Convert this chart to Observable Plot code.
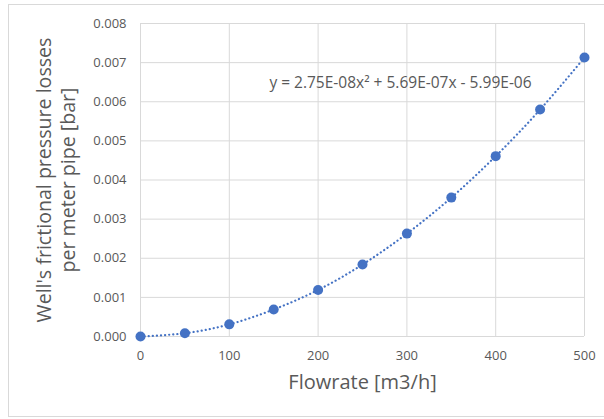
<!DOCTYPE html>
<html>
<head>
<meta charset="utf-8">
<script src="https://cdn.jsdelivr.net/npm/d3@7"></script>
<script src="https://cdn.jsdelivr.net/npm/@observablehq/plot@0.6"></script>
<style>
  html, body { margin: 0; padding: 0; background: #fff; }
  #wrap { position: relative; width: 604px; height: 419px; overflow: hidden; }
  #border { position: absolute; left: 8px; top: 4px; width: 610px; height: 413px; border: 1px solid #d9d9d9; box-sizing: border-box; pointer-events: none; }
  svg { position: absolute; left: 0; top: 0; }
</style>
</head>
<body>
<div id="wrap"><div id="border"></div></div>
<script>
// Data
const flowrate = [0, 50, 100, 150, 200, 250, 300, 350, 400, 450, 500];
const pressureLoss = [0.0000, 0.000085, 0.00031, 0.00069, 0.00119, 0.00184, 0.00263, 0.00355, 0.00461, 0.00580, 0.00713];
const xTicks = [0, 100, 200, 300, 400, 500];
const yTicks = [0, 0.001, 0.002, 0.003, 0.004, 0.005, 0.006, 0.007, 0.008];
const xTitle = "Flowrate [m3/h]";
const yTitle = "Well's frictional pressure losses\nper meter pipe [bar]";
const equation = "y = 2.75E-08x² + 5.69E-07x - 5.99E-06";

const data = flowrate.map((x, i) => ({x, y: pressureLoss[i]}));
const blue = "#4472c4";
const grey = "#595959";
const font = "'Open Sans', sans-serif";

const chart = Plot.plot({
  width: 604,
  height: 419,
  marginLeft: 140,
  marginRight: 20,
  marginTop: 23,
  marginBottom: 83,
  style: {fontFamily: font, background: "transparent", overflow: "visible"},
  x: {domain: [0, 500], ticks: xTicks},
  y: {domain: [0, 0.008], ticks: yTicks},
  marks: [
    Plot.gridX(xTicks, {stroke: "#d9d9d9", strokeOpacity: 1, strokeWidth: 1}),
    Plot.gridY(yTicks, {stroke: "#d9d9d9", strokeOpacity: 1, strokeWidth: 1}),
    Plot.axisX(xTicks, {tickSize: 0, tickPadding: 14, fontSize: 13, fill: grey, label: null}),
    Plot.axisY(yTicks, {tickSize: 0, tickPadding: 14, fontSize: 13, fill: grey, label: null, tickFormat: d3.format(".3f")}),
    Plot.line(data, {x: "x", y: "y", curve: "natural", stroke: blue, strokeWidth: 2.2, strokeDasharray: "0.1,4", strokeLinecap: "round"}),
    Plot.dot(data, {x: "x", y: "y", r: 5, fill: blue, stroke: "none"}),
    Plot.text([equation], {frameAnchor: "top", textAnchor: "middle", dx: 38, dy: 53, fontSize: 15.5, fill: grey, text: d => d}),
    Plot.text([xTitle], {frameAnchor: "bottom", textAnchor: "middle", dy: 52, fontSize: 20, fill: grey, text: d => d}),
    Plot.text([yTitle], {frameAnchor: "left", textAnchor: "middle", dx: -85, rotate: -90, fontSize: 19.6, lineHeight: 1.2, fill: grey, text: d => d})
  ]
});
document.getElementById("wrap").appendChild(chart);
</script>
</body>
</html>
